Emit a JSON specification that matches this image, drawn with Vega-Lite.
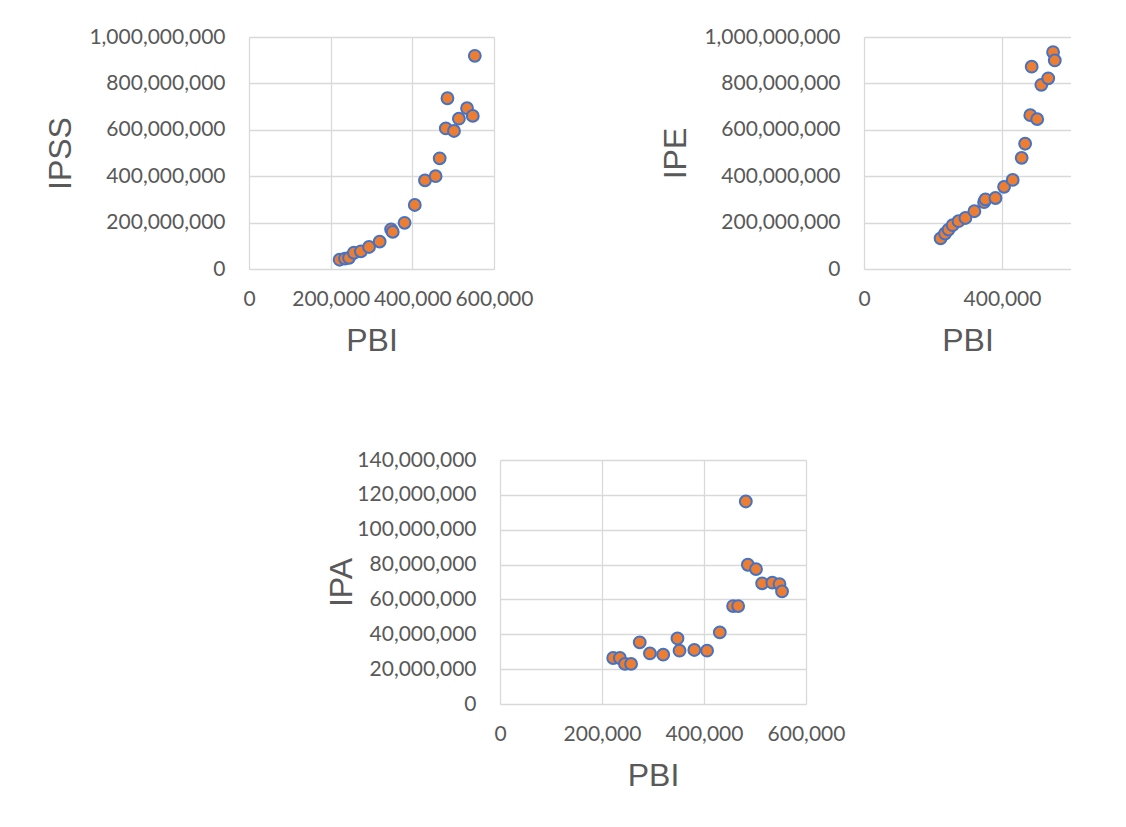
{
  "$schema": "https://vega.github.io/schema/vega-lite/v6.json",
  "background": "white",
  "padding": {"left": 44, "top": 26, "right": 0, "bottom": 0},
  "autosize": {"type": "pad"},
  "datasets": {
    "d": [
      {"PBI": 222000, "IPSS": 40000000, "IPE": 132000000, "IPA": 26400000},
      {"PBI": 235000, "IPSS": 45000000, "IPE": 153000000, "IPA": 26400000},
      {"PBI": 245000, "IPSS": 48000000, "IPE": 170000000, "IPA": 23000000},
      {"PBI": 257000, "IPSS": 70000000, "IPE": 189000000, "IPA": 23000000},
      {"PBI": 274000, "IPSS": 76000000, "IPE": 206000000, "IPA": 35400000},
      {"PBI": 294000, "IPSS": 95000000, "IPE": 220000000, "IPA": 29000000},
      {"PBI": 320000, "IPSS": 118000000, "IPE": 249000000, "IPA": 28300000},
      {"PBI": 348000, "IPSS": 171000000, "IPE": 288000000, "IPA": 37600000},
      {"PBI": 352000, "IPSS": 160000000, "IPE": 300000000, "IPA": 30600000},
      {"PBI": 381000, "IPSS": 199000000, "IPE": 306000000, "IPA": 31000000},
      {"PBI": 406000, "IPSS": 276000000, "IPE": 354000000, "IPA": 30600000},
      {"PBI": 431000, "IPSS": 382000000, "IPE": 384000000, "IPA": 41100000},
      {"PBI": 457000, "IPSS": 400000000, "IPE": 479000000, "IPA": 56200000},
      {"PBI": 467000, "IPSS": 477000000, "IPE": 540000000, "IPA": 56200000},
      {"PBI": 482000, "IPSS": 606000000, "IPE": 663000000, "IPA": 116200000},
      {"PBI": 486000, "IPSS": 736000000, "IPE": 872000000, "IPA": 79900000},
      {"PBI": 502000, "IPSS": 595000000, "IPE": 646000000, "IPA": 77400000},
      {"PBI": 514000, "IPSS": 648000000, "IPE": 794000000, "IPA": 69200000},
      {"PBI": 534000, "IPSS": 693000000, "IPE": 822000000, "IPA": 69600000},
      {"PBI": 548000, "IPSS": 660000000, "IPE": 935000000, "IPA": 68800000},
      {"PBI": 553000, "IPSS": 919000000, "IPE": 899000000, "IPA": 64600000}
    ]
  },
  "config": {
    "view": {"stroke": null},
    "axis": {
      "grid": true, "gridColor": "#d9d9d9", "gridWidth": 1.3,
      "domain": false, "ticks": false,
      "labelFont": "Lato", "labelFontSize": 21, "labelColor": "#595959",
      "titleFont": "Liberation Sans", "titleFontSize": 32, "titleFontWeight": "normal", "titleColor": "#595959",
      "labelOverlap": false, "labelFlush": false, "labelBound": false
    },
    "axisX": {"labelPadding": 19, "titlePadding": 16},
    "axisY": {"labelPadding": 24, "titlePadding": 11}
  },
  "spacing": 93,
  "vconcat": [
    {
      "spacing": 126,
      "hconcat": [
        {
          "width": 245, "height": 232,
          "data": {"name": "d"},
          "mark": {"type": "circle", "size": 140, "fill": "#ED7D31", "stroke": "#4472C4", "strokeWidth": 2, "opacity": 1},
          "encoding": {
            "x": {"field": "PBI", "type": "quantitative", "scale": {"domain": [0, 600000], "nice": false},
                  "axis": {"values": [0, 200000, 400000, 600000], "format": ",.0f", "title": "PBI"}},
            "y": {"field": "IPSS", "type": "quantitative", "scale": {"domain": [0, 1000000000], "nice": false},
                  "axis": {"values": [0, 200000000, 400000000, 600000000, 800000000, 1000000000], "format": ",.0f", "title": "IPSS"}}
          }
        },
        {
          "width": 207, "height": 232,
          "data": {"name": "d"},
          "mark": {"type": "circle", "size": 140, "fill": "#ED7D31", "stroke": "#4472C4", "strokeWidth": 2, "opacity": 1},
          "encoding": {
            "x": {"field": "PBI", "type": "quantitative", "scale": {"domain": [0, 600000], "nice": false},
                  "axis": {"values": [0, 400000], "format": ",.0f", "title": "PBI"}},
            "y": {"field": "IPE", "type": "quantitative", "scale": {"domain": [0, 1000000000], "nice": false},
                  "axis": {"values": [0, 200000000, 400000000, 600000000, 800000000, 1000000000], "format": ",.0f", "title": "IPE"}}
          }
        }
      ]
    },
    {
      "columns": 2,
      "align": "none",
      "spacing": 0,
      "concat": [
        {
          "width": 76, "height": 10,
          "data": {"values": []},
          "mark": "point"
        },
        {
          "width": 306, "height": 244,
          "data": {"name": "d"},
          "mark": {"type": "circle", "size": 140, "fill": "#ED7D31", "stroke": "#4472C4", "strokeWidth": 2, "opacity": 1},
          "encoding": {
            "x": {"field": "PBI", "type": "quantitative", "scale": {"domain": [0, 600000], "nice": false},
                  "axis": {"values": [0, 200000, 400000, 600000], "format": ",.0f", "title": "PBI"}},
            "y": {"field": "IPA", "type": "quantitative", "scale": {"domain": [0, 140000000], "nice": false},
                  "axis": {"values": [0, 20000000, 40000000, 60000000, 80000000, 100000000, 120000000, 140000000], "format": ",.0f", "title": "IPA", "titlePadding": -2}}
          }
        }
      ]
    }
  ]
}
